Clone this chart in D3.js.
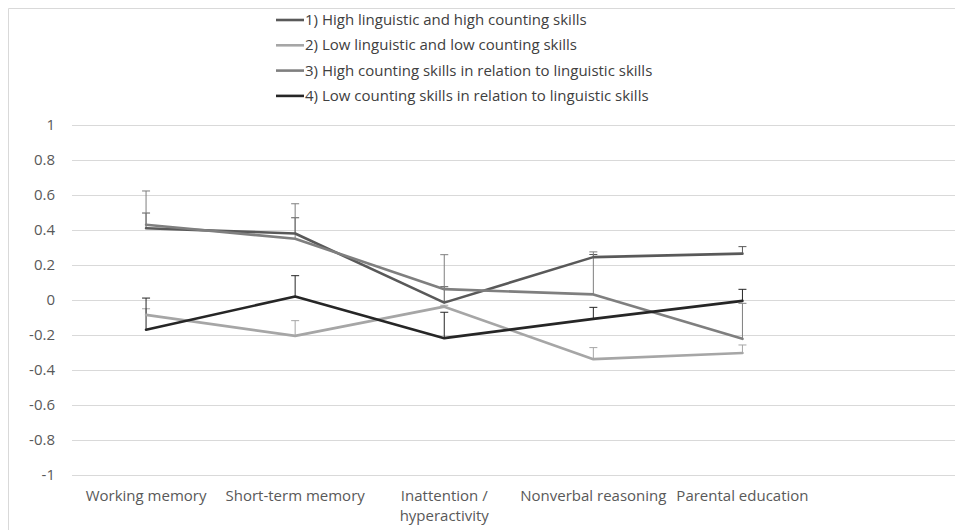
<!DOCTYPE html>
<html><head><meta charset="utf-8">
<script src="https://cdn.jsdelivr.net/npm/d3@7"></script>
<style>body{margin:0;background:#fff}svg{display:block}text{font-family:"Open Sans",Lato,sans-serif}</style>
</head><body><svg id="c" width="955" height="530"></svg>
<script>
const categories = ["Working memory","Short-term memory","Inattention / hyperactivity","Nonverbal reasoning","Parental education"];
const seriesNames = ["1) High linguistic and high counting skills","2) Low linguistic and low counting skills","3) High counting skills in relation to linguistic skills","4) Low counting skills in relation to linguistic skills"];
const s1 = [0.41, 0.38, -0.015, 0.245, 0.265];
const s2 = [-0.085, -0.205, -0.038, -0.338, -0.303];
const s3 = [0.43, 0.35, 0.062, 0.032, -0.222];
const s4 = [-0.17, 0.02, -0.218, -0.108, -0.005];
const e1 = [0.497, 0.47, 0.076, 0.26, 0.305];
const e2 = [-0.05, -0.118, -0.03, -0.272, -0.257];
const e3 = [0.623, 0.55, 0.259, 0.275, -0.019];
const e4 = [0.011, 0.139, -0.07, -0.042, 0.061];
const yTicks = [1,0.8,0.6,0.4,0.2,0,-0.2,-0.4,-0.6,-0.8,-1];
const colors = ["#595959","#a6a6a6","#7f7f7f","#262626"];

const values=[s1,s2,s3,s4], errs=[e1,e2,e3,e4];
const svg=d3.select("#c");
const x=d3.scalePoint().domain(categories).range([71.5,817]).padding(0.5);
const y=d3.scaleLinear().domain([-1,1]).range([475,125]);

// chart border
svg.append("path").attr("d","M8.5,530 V8.5 H955").attr("fill","none").attr("stroke","#d9d9d9");

// gridlines
svg.append("g").selectAll("line").data(yTicks).join("line")
 .attr("x1",72).attr("x2",955).attr("y1",d=>Math.round(y(d))+0.5).attr("y2",d=>Math.round(y(d))+0.5)
 .attr("stroke","#d9d9d9").attr("stroke-width",1);
// y labels
const yAxis=d3.axisLeft(y).tickValues(yTicks).tickSize(0).tickPadding(0).tickFormat(d=>String(d));
const ga=svg.append("g").attr("transform","translate(55,0)").call(yAxis);
ga.select(".domain").remove();
ga.selectAll("text").attr("font-size",15).attr("fill","#595959").attr("font-family","'Open Sans',sans-serif");

// x labels
const xl=svg.append("g").selectAll("text").data(categories).join("text")
 .attr("x",d=>x(d)).attr("y",501).attr("text-anchor","middle").attr("font-size",15).attr("fill","#595959");
xl.each(function(d){
  const t=d3.select(this);
  if(d.indexOf(" / ")>=0){const p=d.split(" / ");
    t.append("tspan").attr("x",x(d)).attr("dy",0).text(p[0]+" /");
    t.append("tspan").attr("x",x(d)).attr("dy",20).text(p[1]);
  } else t.text(d);
});

// error bars
values.forEach((vals,i)=>{
  const g=svg.append("g");
  vals.forEach((v,j)=>{
    const cx=x(categories[j]);
    g.append("line").attr("x1",cx).attr("x2",cx).attr("y1",y(v)).attr("y2",y(errs[i][j])).attr("stroke",colors[i]).attr("stroke-width",1);
    g.append("line").attr("x1",cx-4).attr("x2",cx+4).attr("y1",y(errs[i][j])).attr("y2",y(errs[i][j])).attr("stroke",colors[i]).attr("stroke-width",1);
  });
});
// lines
const line=d3.line().x((d,j)=>x(categories[j])).y(d=>y(d));
values.forEach((vals,i)=>{
  svg.append("path").datum(vals).attr("d",line).attr("fill","none").attr("stroke",colors[i]).attr("stroke-width",2.6).attr("stroke-linejoin","round").attr("stroke-linecap","round");
});

// legend
const lg=svg.append("g").selectAll("g").data(seriesNames).join("g")
 .attr("transform",(d,i)=>`translate(276,${20+i*25.3})`);
lg.append("line").attr("x1",0).attr("x2",28).attr("y1",0).attr("y2",0).attr("stroke",(d,i)=>colors[i]).attr("stroke-width",2.6);
lg.append("text").attr("x",29).attr("y",5).attr("font-size",15).attr("fill","#404040").text(d=>d);
</script></body></html>
